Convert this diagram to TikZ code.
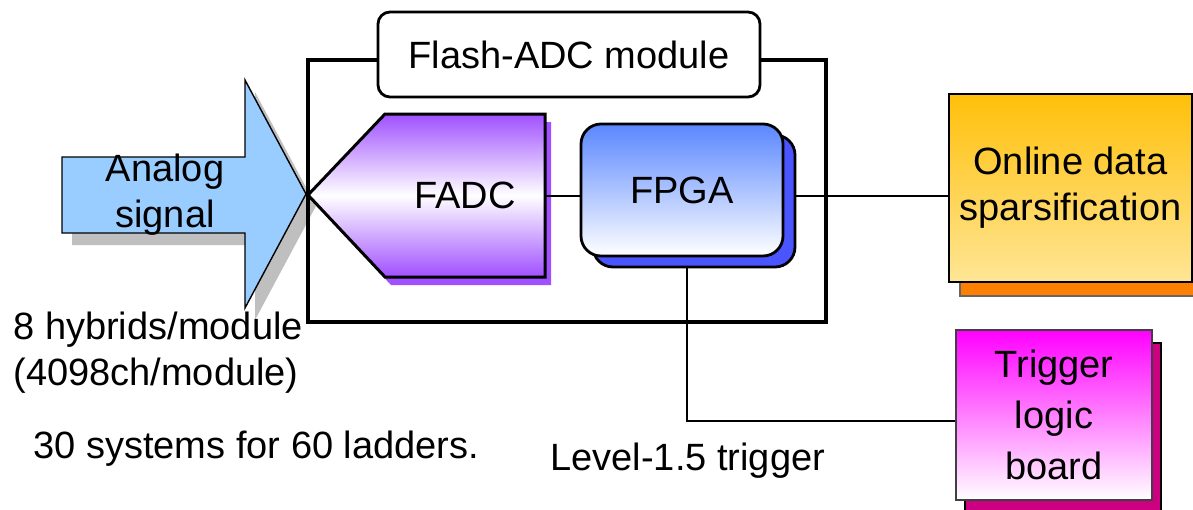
\documentclass[tikz,border=0pt]{standalone}
\usepackage{fontspec}
\setmainfont{Liberation Sans}
\usepackage{xcolor}
\usepackage{tikz}
\usetikzlibrary{shadows}

\definecolor{signalblue}{RGB}{153,204,255}
\definecolor{fadcpurple}{RGB}{160,80,255}
\definecolor{fpgablue}{RGB}{90,135,255}
\definecolor{fpgashade}{RGB}{75,85,255}
\definecolor{onlinetop}{RGB}{255,192,10}
\definecolor{onlinebot}{RGB}{255,230,150}
\definecolor{onlineshade}{RGB}{255,128,0}
\definecolor{trigmagenta}{RGB}{255,0,255}
\definecolor{trigshade}{RGB}{204,0,128}

\begin{document}
\begin{tikzpicture}[
    x=0.5pt, y=-0.5pt,
    font=\fontsize{19}{23}\selectfont,
    box/.style={draw, line width=1.4pt, align=center, inner sep=0pt},
    note/.style={inner sep=0pt, anchor=base west},
    wire/.style={line width=1pt}
]
\useasboundingbox (0,0) rectangle (1193,509);

% incoming analog signal
\draw[line width=0.7pt, fill=signalblue, general shadow={fill=black!25, shadow xshift=5pt, shadow yshift=-6pt}]
    (62,157) -- (245,157) -- (245,80) -- (306,194) -- (245,308) -- (245,233) -- (62,233) -- cycle;
\node[align=center, inner sep=0pt] (analog) at (165,195) {Analog\\signal};

% module frame and its title
\node[draw, line width=1.8pt, minimum width=259pt, minimum height=131pt] (module) at (567,191) {};
\node[box, fill=white, rounded corners=6pt, minimum width=191pt, minimum height=42.5pt] (title) at (569,54.5) {Flash-ADC module};

% FADC pentagon
\draw[line width=1.5pt, top color=fadcpurple, bottom color=fadcpurple, middle color=white,
      general shadow={fill=fadcpurple, shadow xshift=3pt, shadow yshift=-4pt}]
    (308,195) -- (385,114) -- (545,114) -- (545,277) -- (385,277) -- cycle;
\node[minimum width=80pt, minimum height=81.5pt, inner sep=0pt] (fadc) at (465,195.5) {FADC};

\node[box, rounded corners=10pt, minimum width=101pt, minimum height=66pt, top color=fpgablue, bottom color=white,
      general shadow={draw=black, line width=1.4pt, fill=fpgashade, shadow xshift=6pt, shadow yshift=-5.5pt}] (fpga) at (682,190) {FPGA};

\node[box, line width=1.2pt, minimum width=121.5pt, minimum height=94pt, top color=onlinetop, bottom color=onlinebot,
      general shadow={fill=onlineshade, draw=black!60, shadow xshift=5.5pt, shadow yshift=-7pt}] (online) at (1070.5,188) {Online data\\sparsification};

\node[box, draw=black!75, line width=1.2pt, minimum width=98pt, minimum height=85pt, top color=trigmagenta, bottom color=white,
      font=\fontsize{19}{25.5}\selectfont,
      general shadow={fill=trigshade, draw=black, shadow xshift=4.5pt, shadow yshift=-6.5pt}] (trigger) at (1054,415) {Trigger\\logic\\board};

\draw[wire] (fadc.east) -- (fadc.east -| fpga.west);
\draw[wire, shorten <=6pt] (fadc.east -| fpga.east) -- (fadc.east -| online.west);
\draw[wire, shorten <=5.5pt] ([xshift=2.5pt]fpga.south) |- ([yshift=-3pt]trigger.west);

\node[align=left, inner sep=0pt, anchor=west] (hybrids) at (13,353) {8 hybrids/module\\(4098ch/module)};
\node[note] (systems) at (33,458) {30 systems for 60 ladders.};
\node[note] (level) at (550,470) {Level-1.5 trigger};
\end{tikzpicture}
\end{document}
